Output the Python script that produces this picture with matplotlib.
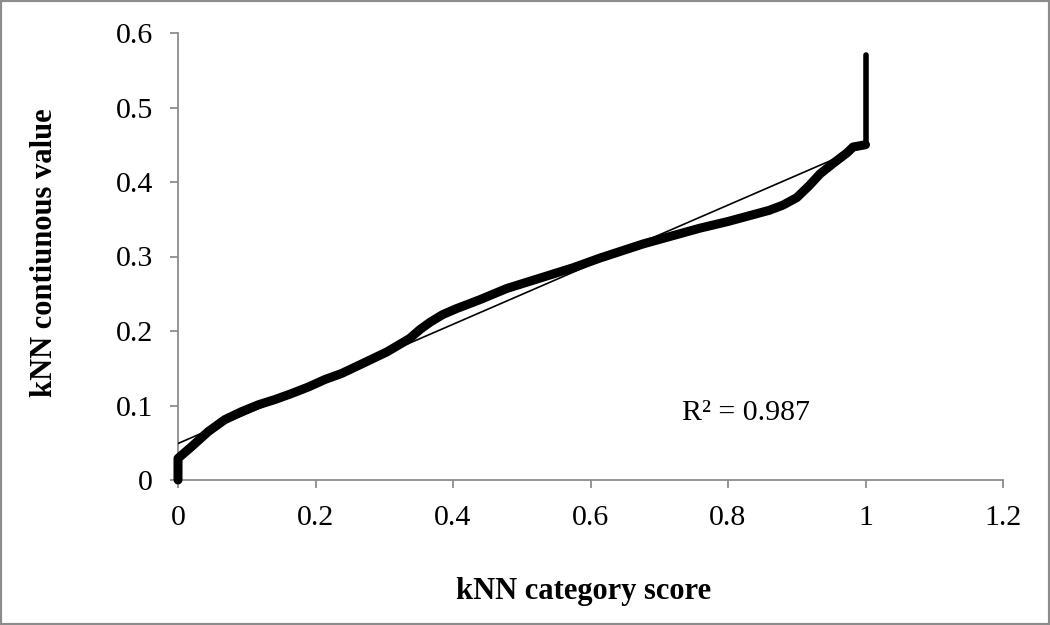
import matplotlib
matplotlib.use("Agg")
import matplotlib.pyplot as plt
from matplotlib.patches import Rectangle
import numpy as np

# Data
category_score = [0.0, 0.0, 0.020, 0.044, 0.068, 0.093, 0.117, 0.141, 0.165, 0.190,
                  0.214, 0.238, 0.270, 0.304, 0.337, 0.352, 0.367, 0.385, 0.405,
                  0.439, 0.478, 0.530, 0.575, 0.614, 0.677, 0.720, 0.759, 0.800,
                  0.832, 0.860, 0.880, 0.900, 0.918, 0.934, 0.953, 0.973, 0.982, 1.0]
continuous_value = [0.0, 0.029, 0.045, 0.065, 0.081, 0.092, 0.101, 0.108, 0.116, 0.125,
                    0.135, 0.143, 0.157, 0.172, 0.190, 0.202, 0.212, 0.222, 0.230,
                    0.242, 0.257, 0.272, 0.285, 0.298, 0.317, 0.328, 0.338, 0.347,
                    0.355, 0.362, 0.369, 0.379, 0.395, 0.411, 0.425, 0.439, 0.447, 0.450]
spike_score = [1.0, 1.0]
spike_value = [0.450, 0.570]

trend_slope = 0.400
trend_intercept = 0.049
trend_range = [0.0, 1.0]
r_squared_label = "R² = 0.987"

x_ticks = [0, 0.2, 0.4, 0.6, 0.8, 1, 1.2]
x_tick_labels = ["0", "0.2", "0.4", "0.6", "0.8", "1", "1.2"]
y_ticks = [0, 0.1, 0.2, 0.3, 0.4, 0.5, 0.6]
y_tick_labels = ["0", "0.1", "0.2", "0.3", "0.4", "0.5", "0.6"]

plt.rcParams['font.family'] = ['Liberation Serif', 'DejaVu Serif']

W, H = 1050, 625
fig = plt.figure(figsize=(W / 100, H / 100), dpi=100)
ax = fig.add_axes([178 / W, 1 - 480 / H, (1003 - 178) / W, (480 - 33) / H])

ax.plot(category_score, continuous_value, color='black', lw=6.5,
        solid_capstyle='round', solid_joinstyle='round', zorder=3, clip_on=False)
ax.plot(spike_score, spike_value, color='black', lw=4,
        solid_capstyle='round', zorder=3, clip_on=False)

tx = np.array(trend_range)
ax.plot(tx, trend_slope * tx + trend_intercept, color='black', lw=1.2, zorder=4)

ax.set_xlim(0, 1.2)
ax.set_ylim(0, 0.6)
ax.set_xticks(x_ticks)
ax.set_xticklabels(x_tick_labels)
ax.set_yticks(y_ticks)
ax.set_yticklabels(y_tick_labels)

for s in ['top', 'right']:
    ax.spines[s].set_visible(False)
for s in ['left', 'bottom']:
    ax.spines[s].set_color('#8c8c8c')
    ax.spines[s].set_linewidth(1.3)

ax.tick_params(axis='both', direction='out', length=6, width=1.3, color='#8c8c8c',
               labelsize=21.5, labelcolor='black')
ax.tick_params(axis='x', pad=12)
ax.tick_params(axis='y', pad=12)

fig.text(584 / W, 1 - 591 / H, "kNN category score", ha='center', va='center',
         fontsize=22, fontweight='bold')
fig.text(45 / W, 1 - 253 / H, "kNN contiunous value", ha='center', va='center',
         rotation=90, fontsize=22, fontweight='bold')
fig.text(682 / W, 1 - 413 / H, r_squared_label, ha='left', va='center', fontsize=21.5)

fig.patches.append(Rectangle((0, 0), 1, 1, transform=fig.transFigure, fill=False,
                             ec='#8c8c8c', lw=3))

fig.savefig("out.png", dpi=100)
